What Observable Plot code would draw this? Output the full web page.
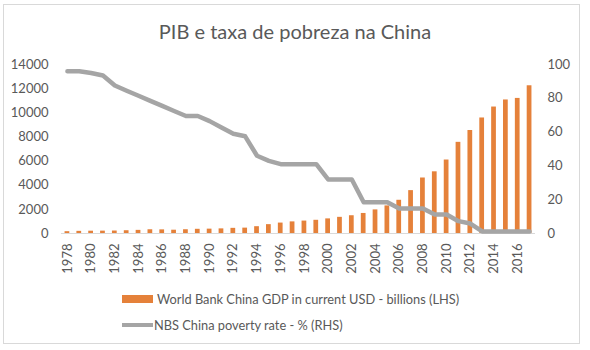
<!DOCTYPE html>
<html>
<head>
<meta charset="utf-8">
<script src="https://cdn.jsdelivr.net/npm/d3@7"></script>
<script src="https://cdn.jsdelivr.net/npm/@observablehq/plot@0.6"></script>
<style>
  html, body { margin: 0; padding: 0; background: #fff; }
  #wrap { position: relative; width: 590px; height: 350px; font-family: Lato, "Open Sans", sans-serif; color: #595959; }
  #frame { position: absolute; left: 3px; top: 4px; width: 577px; height: 340px; border: 1px solid #d9d9d9; box-sizing: border-box; }
  #title { position: absolute; left: 0; top: 0; width: 590px; height: 50px; line-height: 62px; text-align: center; font-size: 20px; color: #595959; }
  #chart { position: absolute; left: 0; top: 50px; }
  #legend { position: absolute; left: 122px; top: 286px; font-size: 12.8px; color: #595959; }
  .row { display: flex; align-items: center; height: 26px; }
  .sw { width: 31px; height: 8px; background: #e5813a; margin-right: 4px; }
  .ln { width: 31px; height: 4px; background: #a5a5a5; margin-right: 1px; }
</style>
</head>
<body>
<div id="wrap">
  <div id="frame"></div>
  <div id="title">PIB e taxa de pobreza na China</div>
  <div id="chart"></div>
  <div id="legend"></div>
</div>
<script>
const years = d3.range(1978, 2018);
const gdp = [150, 178, 191, 196, 205, 230, 260, 309, 301, 273,
             312, 348, 361, 383, 427, 445, 564, 734, 864, 962,
             1029, 1094, 1211, 1339, 1471, 1660, 1955, 2286, 2752, 3552,
             4598, 5110, 6087, 7552, 8532, 9570, 10476, 11062, 11191, 12238];
const poverty = [96, 96, 95, 93.5, 87.6, 84.5, 81.5, 78.5, 75.5, 72.5,
                 69.5, 69.5, 66.5, 62.7, 59, 57.5, 46, 43, 41, 41,
                 41, 41, 32, 32, 32, 18.5, 18.5, 18.5, 14.8, 14.8,
                 14.8, 11.2, 11.2, 7.3, 5.9, 1.2, 1.2, 1.2, 1.2, 1.2];
const leftTicks = [0, 2000, 4000, 6000, 8000, 10000, 12000, 14000];
const rightTicks = [0, 20, 40, 60, 80, 100];
const seriesNames = ["World Bank China GDP in current USD - billions (LHS)", "NBS China poverty rate - % (RHS)"];

const ratio = 14000 / 100;
const data = years.map((y, i) => ({year: y, gdp: gdp[i], pov: poverty[i]}));

const plot = Plot.plot({
  width: 590,
  height: 235,
  marginTop: 14,
  marginBottom: 52,
  marginLeft: 61,
  marginRight: 55,
  style: {fontFamily: "Lato, 'Open Sans', sans-serif", fontSize: "13px", color: "#595959", background: "transparent"},
  x: {type: "band", domain: years, paddingInner: 0.6, paddingOuter: 0.3},
  y: {domain: [0, 14000]},
  marks: [
    Plot.ruleY([0], {stroke: "#d9d9d9"}),
    Plot.barY(data, {x: "year", y: "gdp", fill: "#e5813a"}),
    Plot.lineY(data, {x: "year", y: d => d.pov * ratio, stroke: "#a5a5a5", strokeWidth: 4.5, curve: "linear", strokeLinejoin: "round"}),
    Plot.axisY({ticks: leftTicks, tickSize: 0, tickPadding: 13, label: null, anchor: "left", tickFormat: d => String(d)}),
    Plot.axisY({ticks: rightTicks.map(v => v * ratio), tickSize: 0, tickPadding: 12, label: null, anchor: "right", tickFormat: d => String(Math.round(d / ratio))}),
    Plot.axisX({ticks: years.filter(y => y % 2 === 0), tickSize: 0, tickPadding: 10, tickRotate: -90, label: null, tickFormat: d => String(d)})
  ]
});
document.getElementById("chart").appendChild(plot);

const legend = document.getElementById("legend");
legend.innerHTML = `<div class="row"><div class="sw"></div><span>${seriesNames[0]}</span></div>
<div class="row"><div class="ln"></div><span>${seriesNames[1]}</span></div>`;
</script>
</body>
</html>
